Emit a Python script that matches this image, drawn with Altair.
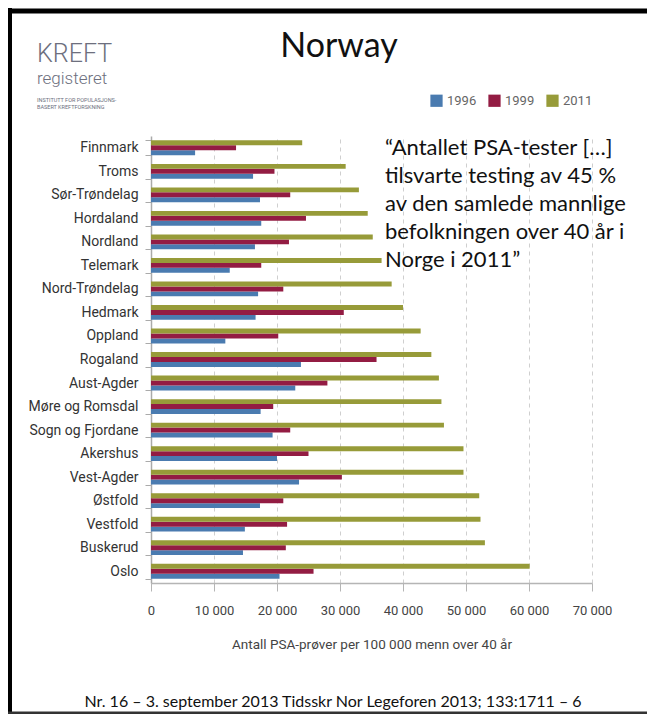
import altair as alt
import pandas as pd

provinces = ["Finnmark", "Troms", "Sør-Trøndelag", "Hordaland", "Nordland", "Telemark",
             "Nord-Trøndelag", "Hedmark", "Oppland", "Rogaland", "Aust-Agder",
             "Møre og Romsdal", "Sogn og Fjordane", "Akershus", "Vest-Agder",
             "Østfold", "Vestfold", "Buskerud", "Oslo"]
years = ["1996", "1999", "2011"]
v1996 = [7000, 16200, 17300, 17500, 16500, 12500, 17000, 16600, 11800, 23800, 22900,
         17400, 19300, 20000, 23500, 17300, 14900, 14600, 20400]
v1999 = [13500, 19600, 22100, 24600, 21900, 17500, 21000, 30600, 20200, 35800, 28000,
         19400, 22100, 25000, 30300, 21000, 21600, 21400, 25800]
v2011 = [24000, 30900, 33000, 34400, 35200, 36600, 38200, 40000, 42800, 44500, 45700,
         46100, 46500, 49600, 49600, 52100, 52300, 53000, 60100]
x_ticks = [0, 10000, 20000, 30000, 40000, 50000, 60000, 70000]
colors = ["#4a7bb0", "#931c43", "#979b39"]

title_text = "Norway"
quote_text = ["\u201cAntallet PSA-tester [\u2026]", "tilsvarte testing av 45 %",
              "av den samlede mannlige", "befolkningen over 40 år i", "Norge i 2011\u201d"]
x_title = "Antall PSA-prøver per 100 000 menn over 40 år"
footer_text = "Nr. 16 \u2013 3. september 2013 Tidsskr Nor Legeforen 2013; 133:1711 \u2013 6"
logo_big = "KREFT"
logo_mid = "registeret"
logo_small = ["INSTITUTT FOR POPULASJONS-", "BASERT KREFTFORSKNING"]

rows = []
for i, p in enumerate(provinces):
    for y, vals in zip(years, [v1996, v1999, v2011]):
        rows.append({"province": p, "year": y, "value": vals[i]})
df = pd.DataFrame(rows)

W, H = 441, 447

bars = alt.Chart(df).mark_bar().encode(
    x=alt.X("value:Q",
            scale=alt.Scale(domain=[0, 70000], nice=False),
            axis=alt.Axis(values=x_ticks,
                          labelExpr="datum.value == 0 ? '0' : format(datum.value / 1000, 'd') + ' 000'",
                          title=x_title, grid=True, gridDash=[4, 4], gridColor="#cfcfcf",
                          domainColor="#b5b5b5", domainWidth=1.5, tickColor="#b5b5b5",
                          tickSize=8, labelPadding=13, titlePadding=20, labelFlush=False,
                          labelFont="Roboto", labelFontSize=13, labelColor="#444",
                          titleFont="Roboto", titleFontSize=13.5, titleColor="#444",
                          titleFontWeight="normal")),
    y=alt.Y("province:N", sort=provinces,
            scale=alt.Scale(paddingInner=0.37, paddingOuter=0.185),
            axis=alt.Axis(title=None, tickBand="extent", domainColor="#aaa", domainWidth=1.5,
                          tickColor="#aaa", tickSize=6, labelPadding=7, grid=False,
                          labelFont="Roboto", labelFontSize=14, labelColor="#333")),
    yOffset=alt.YOffset("year:N", sort=["2011", "1999", "1996"]),
    color=alt.Color("year:N", scale=alt.Scale(domain=years, range=colors),
                    legend=alt.Legend(orient="none", legendX=279, legendY=-42,
                                      direction="horizontal", title=None,
                                      symbolType="square", symbolSize=150,
                                      symbolStrokeWidth=0, symbolOpacity=1,
                                      labelFont="Roboto", labelFontSize=13,
                                      labelColor="#666", columnPadding=11)),
)

one = pd.DataFrame({"t": [title_text]})

title = alt.Chart(one).mark_text(font="Lato", fontSize=34, color="#111",
                                 align="center", baseline="alphabetic").encode(
    text="t:N", x=alt.value(188), y=alt.value(-79))

quote = alt.Chart(pd.DataFrame({"t": [quote_text]})).mark_text(
    font="Lato", fontSize=22, color="#111", align="left", baseline="alphabetic",
    lineHeight=28).encode(text="t", x=alt.value(234), y=alt.value(19))

footer = alt.Chart(pd.DataFrame({"t": [footer_text]})).mark_text(
    font="Lato", fontSize=16, color="#111", align="center", baseline="alphabetic").encode(
    text="t:N", x=alt.value(182), y=alt.value(571))

logo1 = alt.Chart(pd.DataFrame({"t": [logo_big]})).mark_text(
    font="Roboto", fontWeight=300, fontSize=25, color="#6d6f7e", align="left",
    baseline="alphabetic").encode(text="t:N", x=alt.value(-114), y=alt.value(-74))
logo2 = alt.Chart(pd.DataFrame({"t": [logo_mid]})).mark_text(
    font="Roboto", fontWeight=300, fontSize=17, color="#6d6f7e", align="left",
    baseline="alphabetic").encode(text="t:N", x=alt.value(-114), y=alt.value(-52))
logo3 = alt.Chart(pd.DataFrame({"t": [logo_small]})).mark_text(
    font="Roboto", fontSize=5.5, color="#6d6f7e", align="left", baseline="alphabetic",
    lineHeight=6.5).encode(text="t", x=alt.value(-114), y=alt.value(-34))

frame = pd.DataFrame({"a": [0]})
top_line = alt.Chart(frame).mark_rule(color="#000", strokeWidth=5).encode(
    x=alt.value(-143), x2=alt.value(496), y=alt.value(-125))
left_line = alt.Chart(frame).mark_rule(color="#000", strokeWidth=4).encode(
    x=alt.value(-141), y=alt.value(-128), y2=alt.value(578))
bottom_line = alt.Chart(frame).mark_rule(color="#333", strokeWidth=3).encode(
    x=alt.value(-143), x2=alt.value(496), y=alt.value(577))

chart = alt.layer(bars, title, quote, footer, logo1, logo2, logo3,
                  top_line, left_line, bottom_line).properties(
    width=W, height=H, autosize="none",
    padding={"left": 143, "top": 128, "right": 55, "bottom": 131},
    background="white",
).configure_view(stroke=None)

chart.save("out.html", embed_options={"renderer": "svg", "actions": False})
